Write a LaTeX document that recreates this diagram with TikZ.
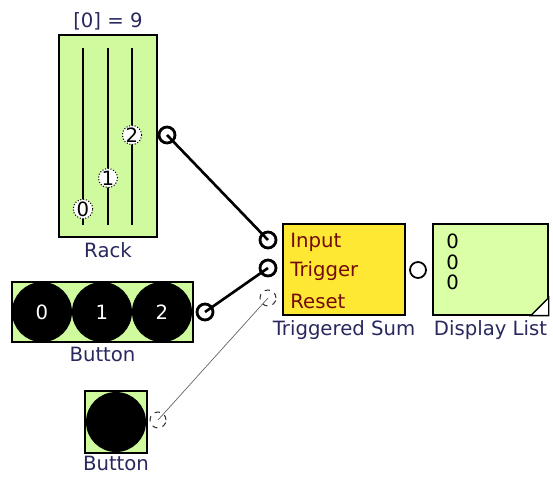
\documentclass[tikz,border=0pt]{standalone}
\usepackage{fontspec}
\setmainfont{DejaVu Sans}
\usetikzlibrary{positioning}
\definecolor{BlockGreen}{RGB}{208,250,158}
\definecolor{ListGreen}{RGB}{218,255,166}
\definecolor{SumYellow}{RGB}{255,232,51}
\definecolor{PinRed}{RGB}{115,10,10}
\definecolor{TagBlue}{RGB}{40,40,95}

\begin{document}
\begin{tikzpicture}[x=0.02cm,y=-0.02cm,font=\fontsize{11.2}{13}\selectfont]
\tikzset{
  block/.style={draw,thick,inner sep=0pt},
  tag/.style={text=TagBlue,inner sep=1pt},
  pin/.style={text=PinRed,anchor=west,inner sep=0pt},
  port/.style={circle,draw,line width=1.6pt,minimum size=0.32cm,inner sep=0pt},
  freeport/.style={circle,draw=black!80,dashed,semithick,fill=white,minimum size=0.32cm,inner sep=0pt},
  knob/.style={circle,draw,densely dotted,semithick,fill=white,minimum size=0.38cm,inner sep=0pt},
  key/.style={circle,fill=black,text=white,minimum size=1.2cm,inner sep=0pt},
  wire/.style={line width=1.5pt},
  thinwire/.style={thin,black!60}
}
\useasboundingbox (0,0) rectangle (553,476);

\node[block,fill=BlockGreen,minimum width=1.96cm,minimum height=4.04cm] (rack) at (108,136) {};
\node[tag,above=1pt of rack] (racktop) {[0] = 9};
\node[tag,below=1.5pt of rack] (racklabel) {Rack};
\draw[thick] (83,48) -- (83,225) (108,48) -- (108,225) (132,48) -- (132,225);
\node[knob] (knob0) at (83,209) {0};
\node[knob] (knob1) at (108,178) {1};
\node[knob] (knob2) at (132,135) {2};

\node[block,fill=BlockGreen,minimum width=3.62cm,minimum height=1.2cm] (keys) at (102.5,312) {};
\node[key] (key0) at (42,312) {0};
\node[key] (key1) at (102,312) {1};
\node[key] (key2) at (162,312) {2};
\node[tag,below=1.5pt of keys] (keyslabel) {Button};

\node[block,fill=BlockGreen,minimum width=1.24cm,minimum height=1.24cm] (btn) at (116,422) {};
\node[key] (btnkey) at (116,422) {};
\node[tag,below=0pt of btn] (btnlabel) {Button};

\node[block,fill=SumYellow,minimum width=2.44cm,minimum height=1.82cm] (sum) at (344,269.5) {};
\node[pin] (sumintext) at (290,242) {Input};
\node[pin] (sumtrigtext) at (290,271) {Trigger};
\node[pin] (sumresettext) at (290,301) {Reset};
\node[tag,below=1.5pt of sum] (sumlabel) {Triggered Sum};

\node[block,fill=ListGreen,minimum width=2.3cm,minimum height=1.82cm] (list) at (490.5,269.5) {};
\node[align=left,anchor=north west,inner sep=0pt,font=\fontsize{11.2}{11.6}\selectfont] (listtext) at (446,234) {0\\0\\0};
\draw[fill=white,thick] (list.south east) -- ++(-18,0) -- ++(18,-18) -- cycle;
\node[tag,below=1.5pt of list] (listlabel) {Display List};

\node[port] (rackout) at (167,135) {};
\node[port] (keysout) at (205,312) {};
\node[port] (sumin) at (268,240) {};
\node[port] (sumtrig) at (268,268) {};
\node[freeport] (sumreset) at (268,298) {};
\node[port,line width=1pt,fill=white] (sumout) at (418,270) {};
\node[freeport] (btnout) at (158,420) {};

\draw[wire] (rackout.center) -- (sumin.center);
\draw[wire] (keysout.center) -- (sumtrig.center);
\draw[thinwire] (btnout.center) -- (sumreset.center);
\end{tikzpicture}
\end{document}
